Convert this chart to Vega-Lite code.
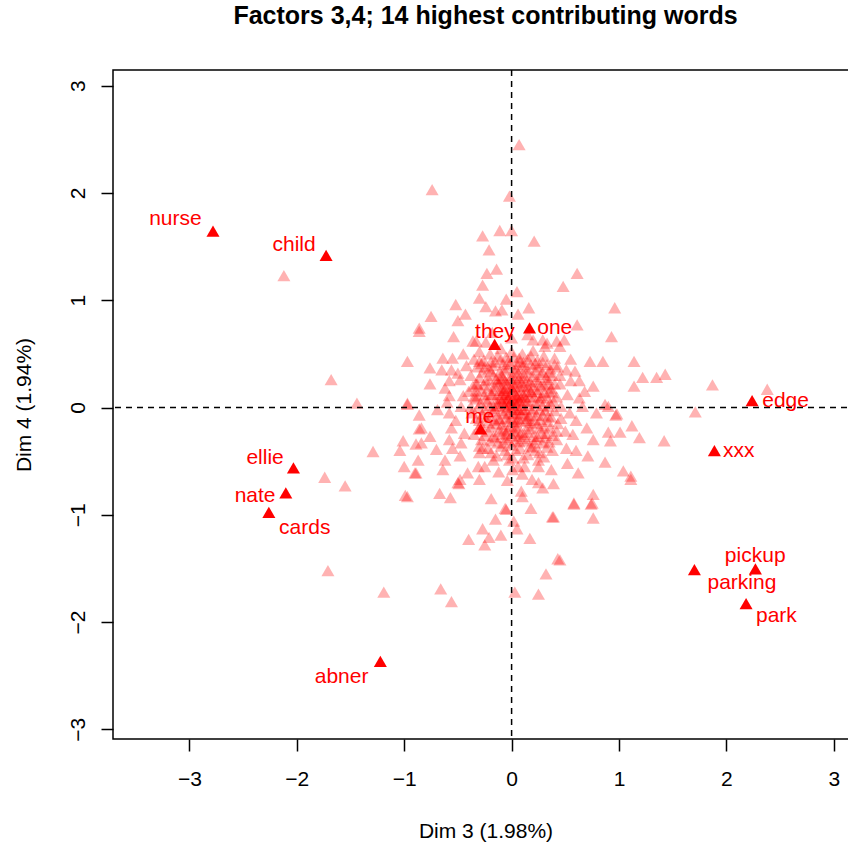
{
"$schema": "https://vega.github.io/schema/vega-lite/v6.json",
"width": 745, "height": 669,
"autosize": {"type": "none"},
"padding": {"left": 113, "top": 70, "right": 0, "bottom": 104},
"background": "white",
"title": {"text": "Factors 3,4; 14 highest contributing words", "font": "Liberation Sans", "fontSize": 25, "fontWeight": "bold", "color": "black", "anchor": "middle", "frame": "group", "offset": 40},
"config": {
  "view": {"stroke": "black", "strokeWidth": 1.5},
  "axis": {"domain": false, "grid": false, "ticks": true, "tickSize": 12, "tickWidth": 1.5, "tickColor": "black", "labelFont": "Liberation Sans", "labelFontSize": 21, "labelColor": "black", "titleFont": "Liberation Sans", "titleFontSize": 21, "titleFontWeight": "normal", "titleColor": "black", "labelFlush": false, "labelOverlap": false, "format": "d"},
  "axisX": {"labelPadding": 17, "titlePadding": 31},
  "axisY": {"labelAngle": -90, "labelAlign": "center", "labelBaseline": "bottom", "labelPadding": 13, "titlePadding": 33}
},
"datasets": {
"others": [
{"x":-2.12,"y":1.23},{"x":-1.68,"y":0.26},{"x":-1.44,"y":0.04},
{"x":-1.74,"y":-0.65},{"x":-1.55,"y":-0.73},{"x":-1.71,"y":-1.52},{"x":-1.19,"y":-1.72},{"x":-1.29,"y":-0.41},{"x":-1.01,"y":-0.31},{"x":-1.04,"y":-0.4},{"x":-1.0,"y":-0.55},{"x":-0.99,"y":-0.82},
{"x":0.96,"y":0.93},{"x":0.93,"y":0.66},{"x":0.85,"y":0.43},{"x":1.14,"y":0.43},{"x":1.22,"y":0.28},{"x":1.35,"y":0.28},{"x":1.43,"y":0.31},{"x":1.14,"y":0.2},{"x":1.87,"y":0.21},{"x":2.38,"y":0.17},{"x":1.71,"y":-0.04},{"x":0.87,"y":0.03},{"x":0.97,"y":-0.07},{"x":0.98,"y":-0.06},{"x":1.12,"y":-0.17},{"x":1.01,"y":-0.23},{"x":0.9,"y":-0.23},{"x":1.19,"y":-0.28},{"x":0.92,"y":-0.31},{"x":1.42,"y":-0.31},{"x":0.87,"y":-0.51},{"x":1.04,"y":-0.59},{"x":1.11,"y":-0.64},
{"x":0.58,"y":-0.9},{"x":0.74,"y":-0.9},{"x":0.75,"y":-0.89},{"x":0.76,"y":-1.03},{"x":0.45,"y":-1.42},
{"x":0.07,"y":2.45},{"x":-0.74,"y":2.03},{"x":-0.02,"y":1.97},{"x":-0.27,"y":1.6},{"x":-0.11,"y":1.65},{"x":0.0,"y":1.65},{"x":0.21,"y":1.55},{"x":-0.21,"y":1.47},{"x":-0.23,"y":1.25},{"x":-0.14,"y":1.29},{"x":0.61,"y":1.25},{"x":0.48,"y":1.13},{"x":-0.27,"y":1.14},{"x":-0.3,"y":1.02},{"x":0.05,"y":1.08},{"x":-0.05,"y":1.01},{"x":-0.52,"y":0.96},{"x":-0.75,"y":0.85},{"x":-0.43,"y":0.87},{"x":-0.5,"y":0.81},{"x":-0.24,"y":0.94},{"x":-0.15,"y":0.9},{"x":-0.09,"y":0.91},{"x":0.16,"y":0.93},{"x":0.61,"y":0.77},{"x":-0.86,"y":0.74},
{"x":-0.5,"y":-0.7},{"x":-0.49,"y":-0.71},{"x":-0.3,"y":-0.67},{"x":-0.04,"y":-0.68},{"x":0.19,"y":-0.67},{"x":0.25,"y":-0.7},{"x":0.29,"y":-0.75},{"x":0.39,"y":-0.71},{"x":1.11,"y":-0.67},{"x":-0.97,"y":-0.83},{"x":-0.67,"y":-0.8},{"x":-0.57,"y":-0.84},{"x":-0.19,"y":-0.85},{"x":0.1,"y":-0.83},{"x":-0.06,"y":-0.94},{"x":-0.05,"y":-0.95},{"x":0.18,"y":-0.94},{"x":0.58,"y":-0.89},{"x":0.38,"y":-1.02},{"x":0.39,"y":-1.02},{"x":-0.15,"y":-1.04},{"x":0.02,"y":-1.06},{"x":0.05,"y":-1.13},{"x":-0.27,"y":-1.13},{"x":-0.1,"y":-1.19},{"x":-0.21,"y":-1.21},{"x":-0.4,"y":-1.23},{"x":-0.25,"y":-1.28},{"x":0.17,"y":-1.22},{"x":0.43,"y":-1.41},{"x":0.32,"y":-1.55},{"x":-0.66,"y":-1.69},{"x":-0.56,"y":-1.81},{"x":0.03,"y":-1.72},{"x":0.25,"y":-1.74},
{"x":0.06,"y":0.87},{"x":-0.86,"y":0.71},{"x":-0.54,"y":0.66},{"x":-0.36,"y":0.62},{"x":-0.24,"y":0.61},{"x":0.2,"y":0.63},{"x":0.29,"y":0.63},{"x":0.42,"y":0.62},{"x":0.49,"y":0.63},{"x":0.31,"y":0.57},{"x":0.45,"y":0.57},
{"x":-0.97,"y":0.43},{"x":-0.76,"y":0.37},{"x":-0.64,"y":0.46},{"x":-0.55,"y":0.46},{"x":-0.65,"y":0.35},{"x":-0.56,"y":0.35},{"x":-0.42,"y":0.39},{"x":-0.3,"y":0.43},{"x":-0.19,"y":0.43},{"x":-0.1,"y":0.45},{"x":0.07,"y":0.46},{"x":0.18,"y":0.4},{"x":0.29,"y":0.42},{"x":0.4,"y":0.4},{"x":0.51,"y":0.35},{"x":0.59,"y":0.34},{"x":0.73,"y":0.43},
{"x":-0.76,"y":0.22},{"x":-0.58,"y":0.25},{"x":-0.48,"y":0.26},{"x":-0.33,"y":0.22},{"x":-0.21,"y":0.26},{"x":-0.1,"y":0.26},{"x":0.01,"y":0.26},{"x":0.14,"y":0.25},{"x":0.23,"y":0.26},{"x":0.34,"y":0.22},{"x":0.45,"y":0.22},{"x":0.63,"y":0.25},{"x":0.76,"y":0.2},{"x":-0.58,"y":0.11},{"x":-0.45,"y":0.11},{"x":-0.33,"y":0.11},{"x":-0.19,"y":0.12},{"x":-0.08,"y":0.14},{"x":-0.03,"y":0.08},{"x":0.07,"y":0.11},{"x":0.18,"y":0.15},{"x":0.28,"y":0.11},{"x":0.38,"y":0.14},{"x":0.52,"y":0.12},{"x":0.63,"y":0.09},{"x":-0.97,"y":0.04},
{"x":-0.86,"y":-0.07},{"x":-0.69,"y":-0.02},{"x":-0.58,"y":-0.05},{"x":-0.47,"y":0.01},{"x":-0.38,"y":0.01},{"x":-0.17,"y":0.01},{"x":-0.08,"y":0.04},{"x":0.07,"y":-0.02},{"x":0.14,"y":-0.1},{"x":0.26,"y":-0.02},{"x":0.34,"y":-0.08},{"x":0.46,"y":0.01},{"x":0.54,"y":-0.05},{"x":0.66,"y":0.01},{"x":0.79,"y":-0.05},{"x":0.9,"y":0.01},{"x":-0.11,"y":-0.11},{"x":0.04,"y":-0.11},{"x":0.15,"y":-0.17},
{"x":-0.84,"y":-0.19},{"x":-0.76,"y":-0.27},{"x":-0.84,"y":-0.33},{"x":-0.56,"y":-0.19},{"x":-0.44,"y":-0.24},{"x":-0.58,"y":-0.3},{"x":-0.47,"y":-0.33},{"x":-0.17,"y":-0.27},{"x":-0.05,"y":-0.24},{"x":0.04,"y":-0.24},{"x":0.2,"y":-0.27},{"x":0.32,"y":-0.24},{"x":0.42,"y":-0.3},{"x":0.57,"y":-0.25},{"x":0.7,"y":-0.19},{"x":0.76,"y":-0.3},{"x":-0.3,"y":-0.36},{"x":0.17,"y":-0.36},{"x":0.51,"y":-0.38},{"x":-0.7,"y":-0.39},
{"x":-0.87,"y":-0.49},{"x":-0.89,"y":-0.61},{"x":-0.62,"y":-0.49},{"x":-0.64,"y":-0.58},{"x":-0.48,"y":-0.45},{"x":-0.41,"y":-0.61},{"x":-0.31,"y":-0.55},{"x":-0.17,"y":-0.49},{"x":-0.02,"y":-0.49},{"x":0.01,"y":-0.58},{"x":0.12,"y":-0.55},{"x":0.25,"y":-0.49},{"x":0.37,"y":-0.58},{"x":0.52,"y":-0.52},{"x":0.62,"y":-0.61},{"x":0.71,"y":-0.45},{"x":-0.48,"y":-0.67},{"x":0.09,"y":-0.78},{"x":0.76,"y":-0.81},
{"x":-0.97,"y":0.03},{"x":-0.86,"y":-0.2},{"x":-0.89,"y":-0.34},{"x":-0.9,"y":-0.61},
{"x":-0.35,"y":0.45},{"x":-0.3,"y":0.52},{"x":-0.25,"y":0.38},{"x":-0.2,"y":0.5},{"x":-0.15,"y":0.42},{"x":-0.1,"y":0.55},{"x":-0.05,"y":0.47},{"x":0.0,"y":0.52},{"x":0.05,"y":0.4},{"x":0.1,"y":0.5},{"x":0.15,"y":0.45},{"x":0.2,"y":0.53},{"x":0.25,"y":0.38},{"x":0.3,"y":0.48},{"x":0.35,"y":0.33},{"x":0.4,"y":0.46},
{"x":-0.38,"y":0.3},{"x":-0.32,"y":0.22},{"x":-0.27,"y":0.33},{"x":-0.22,"y":0.18},{"x":-0.17,"y":0.3},{"x":-0.12,"y":0.22},{"x":-0.07,"y":0.35},{"x":-0.02,"y":0.28},{"x":0.03,"y":0.33},{"x":0.08,"y":0.2},{"x":0.12,"y":0.3},{"x":0.17,"y":0.24},{"x":0.22,"y":0.35},{"x":0.27,"y":0.2},{"x":0.32,"y":0.28},{"x":0.37,"y":0.18},{"x":0.45,"y":0.3},
{"x":-0.4,"y":0.15},{"x":-0.33,"y":0.08},{"x":-0.28,"y":0.15},{"x":-0.23,"y":0.05},{"x":-0.18,"y":0.12},{"x":-0.13,"y":0.02},{"x":-0.08,"y":0.18},{"x":-0.03,"y":0.1},{"x":0.02,"y":0.15},{"x":0.06,"y":0.05},{"x":0.11,"y":0.12},{"x":0.16,"y":0.02},{"x":0.21,"y":0.1},{"x":0.26,"y":0.06},{"x":0.31,"y":0.14},{"x":0.36,"y":0.04},{"x":0.42,"y":0.1},
{"x":-0.37,"y":-0.05},{"x":-0.3,"y":-0.12},{"x":-0.25,"y":-0.02},{"x":-0.2,"y":-0.08},{"x":-0.14,"y":-0.15},{"x":-0.1,"y":-0.03},{"x":-0.05,"y":-0.1},{"x":0.0,"y":-0.02},{"x":0.04,"y":-0.14},{"x":0.09,"y":-0.06},{"x":0.14,"y":-0.12},{"x":0.19,"y":-0.04},{"x":0.24,"y":-0.15},{"x":0.29,"y":-0.07},{"x":0.34,"y":-0.13},{"x":0.4,"y":-0.03},{"x":0.46,"y":-0.1},
{"x":-0.35,"y":-0.25},{"x":-0.28,"y":-0.3},{"x":-0.22,"y":-0.22},{"x":-0.15,"y":-0.28},{"x":-0.08,"y":-0.2},{"x":-0.03,"y":-0.3},{"x":0.02,"y":-0.22},{"x":0.07,"y":-0.32},{"x":0.12,"y":-0.25},{"x":0.18,"y":-0.2},{"x":0.23,"y":-0.3},{"x":0.28,"y":-0.24},{"x":0.35,"y":-0.32},{"x":0.42,"y":-0.22},
{"x":-0.3,"y":-0.42},{"x":-0.22,"y":-0.38},{"x":-0.14,"y":-0.45},{"x":-0.06,"y":-0.4},{"x":0.01,"y":-0.47},{"x":0.08,"y":-0.38},{"x":0.15,"y":-0.44},{"x":0.22,"y":-0.4},{"x":0.3,"y":-0.46},{"x":0.38,"y":-0.4},
{"x":-0.05,"y":0.05},{"x":0.03,"y":0.0},{"x":-0.01,"y":0.2},{"x":0.07,"y":0.27},{"x":-0.11,"y":0.08},{"x":0.13,"y":-0.02},{"x":-0.02,"y":-0.18},{"x":0.05,"y":0.1},{"x":-0.06,"y":0.25},{"x":0.1,"y":0.38},{"x":-0.16,"y":0.2},{"x":0.18,"y":0.15},{"x":-0.09,"y":-0.25},{"x":0.0,"y":-0.35},{"x":0.06,"y":-0.55},{"x":-0.12,"y":-0.6},{"x":0.1,"y":-0.62},{"x":0.25,"y":-0.55},{"x":-0.25,"y":-0.55},{"x":0.33,"y":0.6},{"x":-0.33,"y":0.62},{"x":0.0,"y":0.65},{"x":0.15,"y":0.68},{"x":-0.18,"y":0.7},
{"x":-0.32,"y":0.38},{"x":-0.26,"y":0.44},{"x":-0.21,"y":0.36},{"x":-0.13,"y":0.48},{"x":-0.08,"y":0.4},{"x":-0.03,"y":0.43},{"x":0.02,"y":0.47},{"x":0.08,"y":0.43},{"x":0.13,"y":0.36},{"x":0.18,"y":0.48},{"x":0.24,"y":0.44},{"x":0.33,"y":0.4},{"x":0.38,"y":0.3},{"x":0.43,"y":0.38},
{"x":-0.36,"y":0.2},{"x":-0.3,"y":0.28},{"x":-0.24,"y":0.25},{"x":-0.19,"y":0.34},{"x":-0.14,"y":0.27},{"x":-0.09,"y":0.3},{"x":-0.04,"y":0.22},{"x":0.01,"y":0.3},{"x":0.05,"y":0.24},{"x":0.1,"y":0.28},{"x":0.15,"y":0.19},{"x":0.2,"y":0.29},{"x":0.25,"y":0.24},{"x":0.29,"y":0.33},{"x":0.34,"y":0.26},{"x":0.4,"y":0.22},
{"x":-0.35,"y":0.1},{"x":-0.29,"y":0.04},{"x":-0.25,"y":0.12},{"x":-0.2,"y":0.02},{"x":-0.15,"y":0.08},{"x":-0.11,"y":0.16},{"x":-0.06,"y":0.12},{"x":-0.01,"y":0.05},{"x":0.04,"y":0.12},{"x":0.08,"y":0.16},{"x":0.12,"y":0.06},{"x":0.17,"y":0.1},{"x":0.22,"y":0.04},{"x":0.24,"y":0.14},{"x":0.29,"y":0.02},{"x":0.33,"y":0.09},{"x":0.39,"y":0.06},
{"x":-0.33,"y":-0.1},{"x":-0.27,"y":-0.06},{"x":-0.22,"y":-0.14},{"x":-0.17,"y":-0.04},{"x":-0.12,"y":-0.1},{"x":-0.07,"y":-0.06},{"x":-0.02,"y":-0.13},{"x":0.02,"y":-0.06},{"x":0.06,"y":-0.1},{"x":0.11,"y":-0.02},{"x":0.16,"y":-0.08},{"x":0.21,"y":-0.12},{"x":0.27,"y":-0.11},{"x":0.31,"y":-0.03},{"x":0.37,"y":-0.09},{"x":0.43,"y":-0.15},
{"x":-0.31,"y":-0.2},{"x":-0.25,"y":-0.26},{"x":-0.19,"y":-0.18},{"x":-0.12,"y":-0.22},{"x":-0.06,"y":-0.28},{"x":0.0,"y":-0.26},{"x":0.05,"y":-0.19},{"x":0.1,"y":-0.29},{"x":0.15,"y":-0.23},{"x":0.21,"y":-0.33},{"x":0.26,"y":-0.19},{"x":0.31,"y":-0.28},{"x":0.38,"y":-0.26},
{"x":-0.27,"y":-0.38},{"x":-0.19,"y":-0.42},{"x":-0.1,"y":-0.36},{"x":-0.04,"y":-0.44},{"x":0.04,"y":-0.4},{"x":0.11,"y":-0.47},{"x":0.19,"y":-0.37},{"x":0.26,"y":-0.42},{"x":0.33,"y":-0.37},
{"x":-0.02,"y":0.12},{"x":0.01,"y":0.08},{"x":-0.04,"y":0.0},{"x":0.04,"y":0.04},{"x":-0.07,"y":0.16},{"x":0.09,"y":0.09},{"x":0.0,"y":0.18},{"x":-0.03,"y":-0.05},{"x":0.06,"y":-0.02},{"x":0.02,"y":0.22},{"x":-0.1,"y":0.12},{"x":0.12,"y":0.2},
{"x":-0.6,"y":0.05},{"x":-0.52,"y":-0.12},{"x":-0.62,"y":0.18},{"x":-0.5,"y":0.32},{"x":0.55,"y":0.25},{"x":0.6,"y":-0.12},{"x":0.5,"y":-0.22},{"x":0.55,"y":0.45},{"x":-0.45,"y":0.5},{"x":-0.55,"y":-0.38},{"x":0.6,"y":-0.4},{"x":0.68,"y":0.15},
{"x":-0.28,"y":0.41},{"x":-0.18,"y":0.39},{"x":-0.11,"y":0.33},{"x":-0.04,"y":0.37},{"x":0.04,"y":0.36},{"x":0.11,"y":0.42},{"x":0.16,"y":0.33},{"x":0.22,"y":0.41},{"x":0.27,"y":0.31},{"x":0.36,"y":0.36},
{"x":-0.33,"y":0.16},{"x":-0.26,"y":0.21},{"x":-0.17,"y":0.16},{"x":-0.13,"y":0.24},{"x":-0.05,"y":0.18},{"x":0.03,"y":0.19},{"x":0.09,"y":0.23},{"x":0.14,"y":0.14},{"x":0.19,"y":0.21},{"x":0.23,"y":0.17},{"x":0.3,"y":0.21},{"x":0.35,"y":0.15},
{"x":-0.31,"y":0.0},{"x":-0.24,"y":0.08},{"x":-0.16,"y":-0.01},{"x":-0.09,"y":0.06},{"x":-0.06,"y":0.01},{"x":0.01,"y":0.02},{"x":0.07,"y":0.07},{"x":0.1,"y":0.02},{"x":0.15,"y":0.06},{"x":0.2,"y":-0.01},{"x":0.27,"y":0.09},{"x":0.34,"y":0.01},
{"x":-0.29,"y":-0.16},{"x":-0.23,"y":-0.09},{"x":-0.16,"y":-0.12},{"x":-0.09,"y":-0.16},{"x":-0.01,"y":-0.09},{"x":0.03,"y":-0.17},{"x":0.08,"y":-0.13},{"x":0.13,"y":-0.07},{"x":0.18,"y":-0.14},{"x":0.23,"y":-0.07},{"x":0.3,"y":-0.17},{"x":0.36,"y":-0.19},
{"x":-0.2,"y":-0.31},{"x":-0.13,"y":-0.33},{"x":-0.07,"y":-0.33},{"x":0.03,"y":-0.31},{"x":0.09,"y":-0.23},{"x":0.14,"y":-0.31},{"x":0.24,"y":-0.27},{"x":0.29,"y":-0.33},
{"x":-0.01,"y":0.41},{"x":0.06,"y":0.32},{"x":-0.08,"y":0.27},{"x":0.0,"y":0.14},{"x":-0.02,"y":0.03},{"x":0.05,"y":-0.05},{"x":-0.04,"y":-0.21},{"x":0.07,"y":-0.27},{"x":0.12,"y":0.1},{"x":-0.12,"y":0.04},{"x":0.03,"y":0.07},{"x":-0.07,"y":0.09}
],
"top": [
{"word":"nurse","x":-2.78,"y":1.645,"lx":-3.13,"ly":1.698},
{"word":"child","x":-1.727,"y":1.418,"lx":-2.025,"ly":1.458},
{"word":"they","x":-0.158,"y":0.588,"lx":-0.155,"ly":0.65},
{"word":"one","x":0.167,"y":0.743,"lx":0.402,"ly":0.681},
{"word":"me","x":-0.288,"y":-0.199,"lx":-0.296,"ly":-0.143},
{"word":"edge","x":2.239,"y":0.065,"lx":2.551,"ly":0.003},
{"word":"xxx","x":1.888,"y":-0.401,"lx":2.115,"ly":-0.464},
{"word":"ellie","x":-2.031,"y":-0.563,"lx":-2.295,"ly":-0.522},
{"word":"nate","x":-2.102,"y":-0.796,"lx":-2.388,"ly":-0.877},
{"word":"cards","x":-2.26,"y":-0.977,"lx":-1.926,"ly":-1.175},
{"word":"abner","x":-1.222,"y":-2.367,"lx":-1.583,"ly":-2.568},
{"word":"pickup","x":2.27,"y":-1.505,"lx":2.268,"ly":-1.443},
{"word":"parking","x":1.702,"y":-1.511,"lx":2.144,"ly":-1.691},
{"word":"park","x":2.183,"y":-1.828,"lx":2.465,"ly":-2.003}
],
"zero": [{"v": 0}]
},
"layer": [
{"data": {"name": "others"},
 "mark": {"type": "point", "shape": "triangle-up", "filled": true, "color": "#ff0000", "opacity": 0.3, "size": 170, "strokeWidth": 0},
 "encoding": {
  "x": {"field": "x", "type": "quantitative", "title": "Dim 3 (1.98%)", "scale": {"domain": [-3.711, 3.225], "nice": false, "zero": false}, "axis": {"values": [-3, -2, -1, 0, 1, 2, 3]}},
  "y": {"field": "y", "type": "quantitative", "title": "Dim 4 (1.94%)", "scale": {"domain": [-3.09, 3.146], "nice": false, "zero": false}, "axis": {"values": [-3, -2, -1, 0, 1, 2, 3]}}
 }},
{"data": {"name": "zero"},
 "mark": {"type": "rule", "color": "black", "strokeWidth": 1.5, "strokeDash": [6, 5]},
 "encoding": {"x": {"field": "v", "type": "quantitative", "title": "Dim 3 (1.98%)"}}},
{"data": {"name": "zero"},
 "mark": {"type": "rule", "color": "black", "strokeWidth": 1.5, "strokeDash": [6, 5]},
 "encoding": {"y": {"field": "v", "type": "quantitative", "title": "Dim 4 (1.94%)"}}},
{"data": {"name": "top"},
 "mark": {"type": "point", "shape": "triangle-up", "filled": true, "color": "#ff0000", "opacity": 1, "size": 170, "strokeWidth": 0},
 "encoding": {
  "x": {"field": "x", "type": "quantitative", "title": "Dim 3 (1.98%)"},
  "y": {"field": "y", "type": "quantitative", "title": "Dim 4 (1.94%)"}
 }},
{"data": {"name": "top"},
 "mark": {"type": "text", "font": "Liberation Sans", "fontSize": 21, "color": "#ff0000", "align": "center", "baseline": "alphabetic"},
 "encoding": {
  "x": {"field": "lx", "type": "quantitative", "title": "Dim 3 (1.98%)"},
  "y": {"field": "ly", "type": "quantitative", "title": "Dim 4 (1.94%)"},
  "text": {"field": "word"}
 }}
]
}
